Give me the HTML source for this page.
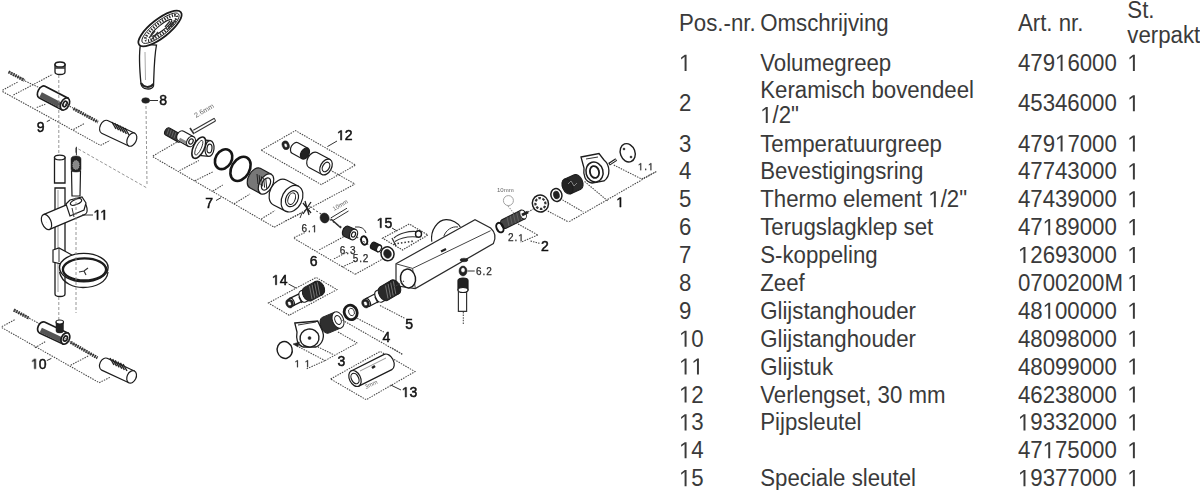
<!DOCTYPE html>
<html><head><meta charset="utf-8"><style>
html,body{margin:0;padding:0;background:#fff;width:1200px;height:490px;overflow:hidden}
svg{display:block}
.tb text{font-family:"Liberation Sans",sans-serif;font-size:22.25px;fill:#3a3a3a}
.lb{font-family:"Liberation Sans",sans-serif;fill:#111;stroke:#111;stroke-width:0.5px}
.h1{fill-opacity:0;stroke-opacity:0}
.lbt{font-family:"Liberation Sans",sans-serif;fill:#666}
.lbs{font-family:"Liberation Sans",sans-serif;fill:#2a2a2a;stroke:#2a2a2a;stroke-width:0.25px;letter-spacing:0.9px}
</style></head><body>
<svg width="1200" height="490" viewBox="0 0 1200 490">
<g id="dg" style="filter:blur(0.3px)">
<path d="M140.5,44 C138.5,56 140,74 141,84 C142,90 151.5,90.5 153.5,86 C154,75 154,58 156.5,45 Z" stroke="#1c1c1c" fill="#fff" stroke-width="1.3"/>
<path d="M141,83 C144,88 150,88 153.5,84" fill="none" stroke="#222" stroke-width="2"/>
<line x1="145" y1="52" x2="145.5" y2="80" stroke-width="1" fill="none" stroke="#aaa"/>
<ellipse cx="160" cy="28.5" rx="26.5" ry="9.2" stroke="#1c1c1c" fill="#fff" transform="rotate(-38 160 28.5)" stroke-width="1.8"/>
<ellipse cx="160.5" cy="28.2" rx="23" ry="7" stroke="#1c1c1c" fill="#fff" transform="rotate(-38 160.5 28.2)" stroke-width="0.9"/>
<ellipse cx="161" cy="28" rx="19.5" ry="5"  transform="rotate(-38 161 28)" fill="none" stroke="#2a2a2a" stroke-width="2.8" stroke-dasharray="1.3 1.4"/>
<ellipse cx="161.5" cy="27.8" rx="13" ry="2.8" stroke="#1c1c1c" fill="#fff" transform="rotate(-38 161.5 27.8)" stroke-width="1"/>
<path d="M149,38 L155,31 M152,39 L158,32 M165,27 L170,21 M168,29 L173,22 M171,27 L176,19" fill="none" stroke="#333" stroke-width="1.3"/>
<ellipse cx="145.7" cy="100.5" rx="4" ry="2.8" fill="#222" stroke="#222" stroke-width="0.5" />
<line x1="149.5" y1="100.5" x2="158" y2="100.5" stroke="#333" stroke-width="1" fill="none" />
<text x="159.2" y="105.4" class="lb" style="font-size:14px" >8</text>
<line x1="146" y1="106" x2="147" y2="185" fill="none" stroke-dasharray="3 2" stroke="#8a8a8a" stroke-width="0.9"/>
<line x1="8.6" y1="71.9" x2="24.5" y2="80.4" stroke="#2a2a2a" stroke-width="3.2" stroke-dasharray="1.6 0.9"/>
<line x1="8.6" y1="71.9" x2="24.5" y2="80.4" stroke="#555" stroke-width="1"/>
<line x1="2.5" y1="90.2" x2="18.4" y2="81.7" stroke="#484848" stroke-width="1.05" stroke-dasharray="1.5 1.1" fill="none" />
<line x1="2.5" y1="91.5" x2="100.5" y2="145.4" stroke="#484848" stroke-width="1.05" stroke-dasharray="1.5 1.1" fill="none" />
<line x1="100.5" y1="145.4" x2="110" y2="140.5" stroke="#484848" stroke-width="1.05" stroke-dasharray="1.5 1.1" fill="none" />
<line x1="36.8" y1="107.4" x2="45.3" y2="104.2" stroke="#484848" stroke-width="1.05" stroke-dasharray="1.5 1.1" fill="none" />
<line x1="73.5" y1="129.5" x2="84.6" y2="123.3" stroke="#484848" stroke-width="1.05" stroke-dasharray="1.5 1.1" fill="none" />
<line x1="13.5" y1="95" x2="52.7" y2="74.3" stroke="#484848" stroke-width="1.05" stroke-dasharray="1.5 1.1" fill="none" />
<line x1="25" y1="81" x2="40" y2="88" stroke="#484848" stroke-width="1.05" stroke-dasharray="1.5 1.1" fill="none" />
<path d="M55,64.5 L55,72 A5 2.5 0 0 0 65,72 L65,64.5 Z" stroke="#1c1c1c" fill="#fff" stroke-width="1.3"/>
<ellipse cx="60" cy="64.5" rx="5" ry="2.6" stroke="#1c1c1c" fill="#fff" stroke-width="1.5"/>
<line x1="55" y1="68" x2="65" y2="68" stroke="#333" fill="none" stroke-width="1.5"/>
<g transform="translate(42.00 92.00) rotate(27.55)"><path d="M0,-6.5 L25.94,-6.5 L25.94,6.5 L0,6.5 A4 6.5 0 0 1 0,-6.5 Z" fill="#fff" stroke="#1c1c1c" stroke-width="1.7"/><path d="M0,0.325 L25.94,0.325 L25.94,5.9 L0,5.9 Z" fill="#555"/><ellipse cx="25.94" cy="0" rx="4" ry="6.5" fill="#fff" stroke="#1c1c1c" stroke-width="1.7"/><ellipse cx="25.94" cy="0" rx="1.8" ry="2.9250000000000003" fill="none" stroke="#1c1c1c" stroke-width="1.7"/></g>
<line x1="65" y1="104" x2="73" y2="108" stroke="#484848" stroke-width="1.05" stroke-dasharray="1.5 1.1" fill="none" />
<line x1="73.5" y1="108.6" x2="98" y2="122" stroke="#2a2a2a" stroke-width="3.2" stroke-dasharray="1.6 0.9"/>
<line x1="73.5" y1="108.6" x2="98" y2="122" stroke="#555" stroke-width="1"/>
<g transform="translate(104.60 126.90) rotate(25.03)"><path d="M0,-7.0 L30.02,-7.0 L30.02,7.0 L0,7.0 A4.5 7.0 0 0 1 0,-7.0 Z" fill="#fff" stroke="#1c1c1c" stroke-width="1.2"/><ellipse cx="30.02" cy="0" rx="4.5" ry="7.0" fill="#fff" stroke="#1c1c1c" stroke-width="1.2"/></g>
<line x1="112.0" y1="122.0" x2="116.0" y2="129.0" fill="none" stroke-width="1.4" stroke="#222"/>
<line x1="114.6" y1="123.2" x2="118.6" y2="130.2" fill="none" stroke-width="1.4" stroke="#222"/>
<line x1="117.2" y1="124.4" x2="121.2" y2="131.4" fill="none" stroke-width="1.4" stroke="#222"/>
<line x1="119.8" y1="125.6" x2="123.8" y2="132.6" fill="none" stroke-width="1.4" stroke="#222"/>
<line x1="122.4" y1="126.8" x2="126.4" y2="133.8" fill="none" stroke-width="1.4" stroke="#222"/>
<line x1="125.0" y1="128.0" x2="129.0" y2="135.0" fill="none" stroke-width="1.4" stroke="#222"/>
<text x="36.7" y="131.6" class="lb" style="font-size:14px" >9</text>
<line x1="46.8" y1="121.6" x2="50" y2="120" stroke="#333" stroke-width="1" fill="none" />
<line x1="78.4" y1="149" x2="147" y2="188" fill="none" stroke-dasharray="3 2" stroke="#8a8a8a" stroke-width="0.9"/>
<line x1="76" y1="147.8" x2="76" y2="152.7" stroke="#333" stroke-width="1" fill="none" />
<line x1="58.8" y1="75" x2="58.8" y2="154" fill="none" stroke-dasharray="3 2" stroke="#8a8a8a" stroke-width="0.9"/>
<path d="M54.5,157.5 L54.5,183 L65,183 L65,157.5 Z" stroke="#1c1c1c" fill="#fff" stroke-width="1.3"/>
<ellipse cx="59.75" cy="157.5" rx="5.25" ry="2.4" stroke="#1c1c1c" fill="#fff" stroke-width="1.3"/>
<path d="M55,188 L55,294 A5 2.5 0 0 0 65,294 L65,188 Z" stroke="#1c1c1c" fill="#fff" stroke-width="1.3"/>
<line x1="58" y1="190" x2="58" y2="292" stroke-width="1" fill="none" stroke="#999"/>
<path d="M71.5,171 L72,196 L80,196 L80.5,171 Z" stroke="#1c1c1c" fill="#fff" stroke-width="1.2"/>
<path d="M71,159 Q71,156 76,156 Q81,156 81,159 L81,169 Q81,172 76,172 Q71,172 71,169 Z" fill="#222" stroke="#222" stroke-width="0.5" />
<ellipse cx="76" cy="165" rx="3.2" ry="4.5"  fill="#888" stroke="#aaa" stroke-width="0.8" stroke-dasharray="1 1"/>
<line x1="76.4" y1="146.8" x2="76.4" y2="155.3" stroke="#333" stroke-width="1" fill="none" />
<g transform="translate(82.00 207.00) rotate(157.09)"><path d="M0,-8.0 L38.54,-8.0 L38.54,8.0 L0,8.0 A4.5 8.0 0 0 1 0,-8.0 Z" fill="#fff" stroke="#1c1c1c" stroke-width="1.2"/><ellipse cx="38.54" cy="0" rx="4.5" ry="8.0" fill="#fff" stroke="#1c1c1c" stroke-width="1.2"/><ellipse cx="38.54" cy="0" rx="0.00045000000000000004" ry="0.0008" fill="none" stroke="#1c1c1c" stroke-width="1.2"/></g>
<path d="M66,204 L70,200 L82,197 L86,203 L84,210 L70,216 Z" stroke="#1c1c1c" fill="#fff" stroke-width="1.2"/>
<ellipse cx="76" cy="202" rx="6" ry="2.5" stroke="#1c1c1c" fill="#fff" transform="rotate(-23 76 202)" stroke-width="1.2"/>
<line x1="72" y1="208" x2="74" y2="217" stroke="#333" stroke-width="1" fill="none" />
<line x1="82" y1="215" x2="93" y2="215" stroke="#333" stroke-width="1" fill="none" />
<text x="93.4" y="219.7" class="lb" style="font-size:14px" ><tspan class="h1">1</tspan><tspan class="h1">1</tspan></text>
<path d="M53,250 L59,248 L72,255 L72,262 L66,265 L53,262 Z" stroke="#1c1c1c" fill="#fff" stroke-width="1.2"/>
<line x1="59" y1="248" x2="59" y2="262" stroke-width="1" fill="none" stroke="#333"/>
<path d="M59.5,272 C62,284 75,287.5 83,287.5 C96,287.5 107,282 108,272" fill="none" stroke="#222" stroke-width="1.3"/>
<ellipse cx="83.8" cy="267.6" rx="24.3" ry="14.2" stroke="#1c1c1c" fill="#fff" stroke-width="1.4"/>
<ellipse cx="84.5" cy="269.4" rx="21.6" ry="11" stroke="#1c1c1c" fill="#fff" stroke-width="2.3"/>
<path d="M79,272 L84,271 L88,268 M84,271 L86,275" stroke="#333" fill="none" stroke-width="1.2"/>
<line x1="58.8" y1="297" x2="58.8" y2="322" fill="none" stroke-dasharray="3 2" stroke="#8a8a8a" stroke-width="0.9"/>
<line x1="76" y1="197" x2="76" y2="313" fill="none" stroke-dasharray="3 2" stroke="#8a8a8a" stroke-width="0.9"/>
<line x1="13.8" y1="310" x2="29.4" y2="318.4" stroke="#2a2a2a" stroke-width="3.2" stroke-dasharray="1.6 0.9"/>
<line x1="13.8" y1="310" x2="29.4" y2="318.4" stroke="#555" stroke-width="1"/>
<line x1="1.8" y1="326.6" x2="15.6" y2="319.3" stroke="#484848" stroke-width="1.05" stroke-dasharray="1.5 1.1" fill="none" />
<line x1="1.8" y1="327.6" x2="99.2" y2="382.7" stroke="#484848" stroke-width="1.05" stroke-dasharray="1.5 1.1" fill="none" />
<line x1="99.2" y1="382.7" x2="110.2" y2="377.2" stroke="#484848" stroke-width="1.05" stroke-dasharray="1.5 1.1" fill="none" />
<line x1="34.9" y1="347.8" x2="45.9" y2="341.3" stroke="#484848" stroke-width="1.05" stroke-dasharray="1.5 1.1" fill="none" />
<line x1="70.7" y1="365.2" x2="88.2" y2="356" stroke="#484848" stroke-width="1.05" stroke-dasharray="1.5 1.1" fill="none" />
<line x1="29.4" y1="318.4" x2="42" y2="325" stroke="#484848" stroke-width="1.05" stroke-dasharray="1.5 1.1" fill="none" />
<g transform="translate(42.00 327.50) rotate(25.18)"><path d="M0,-6.0 L25.86,-6.0 L25.86,6.0 L0,6.0 A4 6.0 0 0 1 0,-6.0 Z" fill="#fff" stroke="#1c1c1c" stroke-width="1.7"/><path d="M0,0.30000000000000004 L25.86,0.30000000000000004 L25.86,5.4 L0,5.4 Z" fill="#555"/><ellipse cx="25.86" cy="0" rx="4" ry="6.0" fill="#fff" stroke="#1c1c1c" stroke-width="1.7"/><ellipse cx="25.86" cy="0" rx="1.8" ry="2.7" fill="none" stroke="#1c1c1c" stroke-width="1.7"/></g>
<path d="M56,322 L56,331 A3.75 2 0 0 0 63.5,331 L63.5,322 Z" fill="#222" stroke="#222" stroke-width="0.5" />
<ellipse cx="59.75" cy="322" rx="3.75" ry="2" stroke="#1c1c1c" fill="#fff" stroke-width="1.2"/>
<line x1="65.4" y1="338.5" x2="70.7" y2="342.3" stroke="#484848" stroke-width="1.05" stroke-dasharray="1.5 1.1" fill="none" />
<line x1="70.7" y1="342.3" x2="97.4" y2="357.9" stroke="#2a2a2a" stroke-width="3.2" stroke-dasharray="1.6 0.9"/>
<line x1="70.7" y1="342.3" x2="97.4" y2="357.9" stroke="#555" stroke-width="1"/>
<g transform="translate(104.40 364.20) rotate(25.03)"><path d="M0,-6.5 L30.02,-6.5 L30.02,6.5 L0,6.5 A4.5 6.5 0 0 1 0,-6.5 Z" fill="#fff" stroke="#1c1c1c" stroke-width="1.2"/><ellipse cx="30.02" cy="0" rx="4.5" ry="6.5" fill="#fff" stroke="#1c1c1c" stroke-width="1.2"/></g>
<line x1="110.0" y1="358.0" x2="114.0" y2="365.0" fill="none" stroke-width="1.4" stroke="#222"/>
<line x1="112.6" y1="359.2" x2="116.6" y2="366.2" fill="none" stroke-width="1.4" stroke="#222"/>
<line x1="115.2" y1="360.4" x2="119.2" y2="367.4" fill="none" stroke-width="1.4" stroke="#222"/>
<line x1="117.8" y1="361.6" x2="121.8" y2="368.6" fill="none" stroke-width="1.4" stroke="#222"/>
<line x1="120.4" y1="362.8" x2="124.4" y2="369.8" fill="none" stroke-width="1.4" stroke="#222"/>
<line x1="123.0" y1="364.0" x2="127.0" y2="371.0" fill="none" stroke-width="1.4" stroke="#222"/>
<text x="30.9" y="368.8" class="lb" style="font-size:14px" ><tspan class="h1">1</tspan>0</text>
<line x1="46.8" y1="360.6" x2="51.4" y2="358.4" stroke="#333" stroke-width="1" fill="none" />
<line x1="152.9" y1="156" x2="176.7" y2="142.2" stroke="#484848" stroke-width="1.05" stroke-dasharray="1.5 1.1" fill="none" />
<line x1="152.9" y1="156.8" x2="274.2" y2="227.2" stroke="#484848" stroke-width="1.05" stroke-dasharray="1.5 1.1" fill="none" />
<line x1="274.2" y1="227.2" x2="355" y2="184" stroke="#484848" stroke-width="1.05" stroke-dasharray="1.5 1.1" fill="none" />
<line x1="179.5" y1="170.6" x2="198.8" y2="160.5" stroke="#484848" stroke-width="1.05" stroke-dasharray="1.5 1.1" fill="none" />
<line x1="195" y1="180.7" x2="213.5" y2="171.5" stroke="#484848" stroke-width="1.05" stroke-dasharray="1.5 1.1" fill="none" />
<line x1="212.9" y1="191.1" x2="222.7" y2="185" stroke="#484848" stroke-width="1.05" stroke-dasharray="1.5 1.1" fill="none" />
<line x1="234" y1="203.8" x2="250" y2="194" stroke="#484848" stroke-width="1.05" stroke-dasharray="1.5 1.1" fill="none" />
<line x1="261.3" y1="218.9" x2="275" y2="210.6" stroke="#484848" stroke-width="1.05" stroke-dasharray="1.5 1.1" fill="none" />
<g transform="translate(167.50 131.50) rotate(29.25)"><path d="M0,-4.0 L14.33,-4.0 L14.33,4.0 L0,4.0 A2.5 4.0 0 0 1 0,-4.0 Z" fill="#333" stroke="#1c1c1c" stroke-width="1"/><ellipse cx="14.33" cy="0" rx="2.5" ry="4.0" fill="#fff" stroke="#1c1c1c" stroke-width="1"/></g>
<line x1="169.0" y1="128.5" x2="167.0" y2="134.5" fill="none" stroke="#888" stroke-width="0.6"/>
<line x1="171.3" y1="129.8" x2="169.3" y2="135.8" fill="none" stroke="#888" stroke-width="0.6"/>
<line x1="173.6" y1="131.1" x2="171.6" y2="137.1" fill="none" stroke="#888" stroke-width="0.6"/>
<line x1="175.9" y1="132.4" x2="173.9" y2="138.4" fill="none" stroke="#888" stroke-width="0.6"/>
<line x1="178.2" y1="133.7" x2="176.2" y2="139.7" fill="none" stroke="#888" stroke-width="0.6"/>
<g transform="translate(181.00 136.00) rotate(28.81)"><path d="M0,-5.5 L11.41,-5.5 L11.41,5.5 L0,5.5 A4 5.5 0 0 1 0,-5.5 Z" fill="#fff" stroke="#1c1c1c" stroke-width="1.2"/><path d="M0,1.9249999999999998 L11.41,1.9249999999999998 L11.41,4.9 L0,4.9 Z" fill="#888"/><ellipse cx="11.41" cy="0" rx="4" ry="5.5" fill="#fff" stroke="#1c1c1c" stroke-width="1.2"/><ellipse cx="11.41" cy="0" rx="2.0" ry="2.75" fill="none" stroke="#1c1c1c" stroke-width="1.2"/></g>
<line x1="193.3" y1="130.2" x2="214.4" y2="118.3" stroke="#333" fill="none" stroke-width="1.1"/>
<line x1="194.5" y1="133" x2="215.5" y2="121" stroke="#333" fill="none" stroke-width="1.1"/>
<line x1="214.4" y1="118.3" x2="215.5" y2="121" stroke="#333" stroke-width="1" fill="none" />
<line x1="190" y1="128" x2="194" y2="134" stroke="#333" fill="none" stroke-width="1.6"/>
<text x="196" y="118" class="lbt" style="font-size:7px" transform="rotate(-30 196 118)">2.6mm</text>
<g transform="translate(199.50 147.50) rotate(5.71)"><path d="M0,-8.0 L10.05,-8.0 L10.05,8.0 L0,8.0 A4.5 8.0 0 0 1 0,-8.0 Z" fill="#fff" stroke="#1c1c1c" stroke-width="1.2"/><ellipse cx="10.05" cy="0" rx="4.5" ry="8.0" fill="#fff" stroke="#1c1c1c" stroke-width="1.2"/><ellipse cx="10.05" cy="0" rx="2.475" ry="4.4" fill="none" stroke="#1c1c1c" stroke-width="1.2"/></g>
<ellipse cx="198.8" cy="147.7" rx="5.5" ry="11.5" stroke="#1c1c1c" fill="#fff" transform="rotate(25 198.8 147.7)" stroke-width="1.6"/>
<ellipse cx="198.8" cy="147.7" rx="2.5" ry="8" stroke="#1c1c1c" transform="rotate(25 198.8 147.7)" stroke-width="0.8" fill="none"/>
<ellipse cx="223.6" cy="159.2" rx="8" ry="10.5" fill="none" stroke="#151515" stroke-width="2.6" transform="rotate(30 223.6 159.2)" />
<ellipse cx="240.5" cy="168.9" rx="9" ry="13" fill="none" stroke="#151515" stroke-width="2.6" transform="rotate(30 240.5 168.9)" />
<g transform="translate(255.00 178.00) rotate(28.61)"><path d="M0,-11.0 L12.53,-11.0 L12.53,11.0 L0,11.0 A6.5 11.0 0 0 1 0,-11.0 Z" fill="#777" stroke="#1c1c1c" stroke-width="1.2"/><ellipse cx="12.53" cy="0" rx="6.5" ry="11.0" fill="#fff" stroke="#1c1c1c" stroke-width="1.2"/><ellipse cx="12.53" cy="0" rx="3.9" ry="6.6" fill="none" stroke="#1c1c1c" stroke-width="1.2"/></g>
<line x1="257.0" y1="174.0" x2="258.0" y2="184.0" fill="none" stroke="#222" stroke-width="1"/>
<line x1="259.2" y1="175.2" x2="260.2" y2="185.2" fill="none" stroke="#222" stroke-width="1"/>
<line x1="261.4" y1="176.4" x2="262.4" y2="186.4" fill="none" stroke="#222" stroke-width="1"/>
<line x1="263.6" y1="177.6" x2="264.6" y2="187.6" fill="none" stroke="#222" stroke-width="1"/>
<line x1="265.8" y1="178.8" x2="266.8" y2="188.8" fill="none" stroke="#222" stroke-width="1"/>
<g transform="translate(280.00 192.50) rotate(27.32)"><path d="M0,-14.0 L13.51,-14.0 L13.51,14.0 L0,14.0 A10 14.0 0 0 1 0,-14.0 Z" fill="#fff" stroke="#1c1c1c" stroke-width="1.2"/><ellipse cx="13.51" cy="0" rx="10" ry="14.0" fill="#fff" stroke="#1c1c1c" stroke-width="1.2"/><ellipse cx="13.51" cy="0" rx="6.0" ry="8.4" fill="none" stroke="#1c1c1c" stroke-width="1.2"/></g>
<ellipse cx="291.7" cy="198.7" rx="3.5" ry="6" stroke="#1c1c1c" fill="#fff" transform="rotate(20 291.7 198.7)" stroke-width="1"/>
<path d="M303,203 L311,213 M311,202 L303,214 M305,201 L309,215"  fill="none" stroke="#222" stroke-width="1.3"/>
<line x1="302" y1="213" x2="300" y2="218" stroke="#333" stroke-width="1" fill="none" />
<text x="205.2" y="207.9" class="lb" style="font-size:14px" >7</text>
<line x1="216" y1="200.5" x2="221" y2="197.7" stroke="#333" stroke-width="1" fill="none" />
<polygon points="261.2,150.2 295.5,130.6 355.6,165 321.3,184.6" stroke="#484848" stroke-width="1.05" stroke-dasharray="1.5 1.1" fill="none" />
<text x="337" y="140.1" class="lb" style="font-size:14px" ><tspan class="h1">1</tspan>2</text>
<line x1="327.4" y1="146.6" x2="337" y2="141" stroke="#333" stroke-width="1" fill="none" />
<ellipse cx="285.7" cy="145.3" rx="3.5" ry="4.5" fill="#222" stroke="#222" stroke-width="0.5" transform="rotate(-20 285.7 145.3)" />
<ellipse cx="285.7" cy="145.3" rx="1.5" ry="2.2" stroke="#1c1c1c" fill="#fff" transform="rotate(-20 285.7 145.3)" stroke-width="0.5"/>
<g transform="translate(295.00 148.00) rotate(28.81)"><path d="M0,-6.0 L11.41,-6.0 L11.41,6.0 L0,6.0 A4 6.0 0 0 1 0,-6.0 Z" fill="#fff" stroke="#1c1c1c" stroke-width="1.2"/><ellipse cx="11.41" cy="0" rx="4" ry="6.0" fill="#222" stroke="#1c1c1c" stroke-width="1.2"/></g>
<g transform="translate(313.00 160.00) rotate(28.30)"><path d="M0,-8.5 L14.76,-8.5 L14.76,8.5 L0,8.5 A5.5 8.5 0 0 1 0,-8.5 Z" fill="#fff" stroke="#1c1c1c" stroke-width="1.2"/><ellipse cx="14.76" cy="0" rx="5.5" ry="8.5" fill="#fff" stroke="#1c1c1c" stroke-width="1.2"/><ellipse cx="14.76" cy="0" rx="3.3" ry="5.1" fill="none" stroke="#1c1c1c" stroke-width="1.2"/></g>
<line x1="330" y1="170" x2="355" y2="184" stroke="#484848" stroke-width="1.05" stroke-dasharray="1.5 1.1" fill="none" />
<line x1="294" y1="237.6" x2="304.6" y2="232.7" stroke="#484848" stroke-width="1.05" stroke-dasharray="1.5 1.1" fill="none" />
<line x1="294" y1="238.4" x2="355.2" y2="274.3" stroke="#484848" stroke-width="1.05" stroke-dasharray="1.5 1.1" fill="none" />
<line x1="355.2" y1="274.3" x2="383" y2="258.8" stroke="#484848" stroke-width="1.05" stroke-dasharray="1.5 1.1" fill="none" />
<line x1="319.3" y1="249.8" x2="343.8" y2="236.7" stroke="#484848" stroke-width="1.05" stroke-dasharray="1.5 1.1" fill="none" />
<line x1="334" y1="258.8" x2="347" y2="252.2" stroke="#484848" stroke-width="1.05" stroke-dasharray="1.5 1.1" fill="none" />
<line x1="342" y1="267" x2="356.8" y2="260.4" stroke="#484848" stroke-width="1.05" stroke-dasharray="1.5 1.1" fill="none" />
<line x1="303" y1="212.2" x2="285" y2="221.2" stroke="#484848" stroke-width="1.05" stroke-dasharray="1.5 1.1" fill="none" />
<line x1="309.5" y1="206.5" x2="383" y2="254" stroke="#484848" stroke-width="1.05" fill="none" stroke-dasharray="2 2"/>
<ellipse cx="324.6" cy="218" rx="4.5" ry="5" fill="#222" stroke="#222" stroke-width="0.5" transform="rotate(-20 324.6 218)" />
<polyline points="330.7,218 347,208.2" stroke="#333" stroke-width="1" fill="none" />
<polyline points="332,221 348.5,211" stroke="#333" stroke-width="1" fill="none" />
<polyline points="331,219 341,228" stroke="#333" fill="none" stroke-width="1.6"/>
<text x="334" y="211" class="lbt" style="font-size:6px" transform="rotate(-30 334 211)">10mm</text>
<g transform="translate(346.50 231.50) rotate(23.20)"><path d="M0,-5.5 L7.62,-5.5 L7.62,5.5 L0,5.5 A3.8 5.5 0 0 1 0,-5.5 Z" fill="#333" stroke="#1c1c1c" stroke-width="1.2"/><ellipse cx="7.62" cy="0" rx="3.8" ry="5.5" fill="#fff" stroke="#1c1c1c" stroke-width="1.2"/><ellipse cx="7.62" cy="0" rx="1.9" ry="2.75" fill="none" stroke="#1c1c1c" stroke-width="1.2"/></g>
<path d="M355,227 Q364,226 366,233" stroke="#333" stroke-width="1" fill="none"/>
<ellipse cx="364.2" cy="240.5" rx="3" ry="4.3" fill="none" stroke="#151515" transform="rotate(-15 364.2 240.5)" stroke-width="2"/>
<g transform="translate(373.00 245.50) rotate(26.57)"><path d="M0,-3.5 L6.71,-3.5 L6.71,3.5 L0,3.5 A2.2 3.5 0 0 1 0,-3.5 Z" fill="#222" stroke="#1c1c1c" stroke-width="1.2"/><ellipse cx="6.71" cy="0" rx="2.2" ry="3.5" fill="#fff" stroke="#1c1c1c" stroke-width="1.2"/></g>
<ellipse cx="387.5" cy="253.8" rx="6.5" ry="7" stroke="#1c1c1c" fill="#fff" transform="rotate(-20 387.5 253.8)" stroke-width="1.5"/>
<ellipse cx="387.5" cy="253.8" rx="3.8" ry="4.5" fill="#222" stroke="#222" stroke-width="0.5" transform="rotate(-20 387.5 253.8)" />
<text x="301.5" y="232.2" class="lbs" style="font-size:10px" >6.<tspan class="h1">1</tspan></text>
<text x="339.8" y="254.2" class="lbs" style="font-size:10px" >6.3</text>
<text x="352.7" y="261.8" class="lbs" style="font-size:10px" >5.2</text>
<text x="309.7" y="266.4" class="lb" style="font-size:14px" >6</text>
<text x="376.6" y="227.8" class="lb" style="font-size:14px" ><tspan class="h1">1</tspan>5</text>
<line x1="392" y1="228" x2="397" y2="231" stroke="#333" stroke-width="1" fill="none" />
<polygon points="382.6,238.2 409.2,224 427.9,235 402.6,250" stroke="#484848" stroke-dasharray="1.5 1.1" fill="none" stroke-width="1.2"/>
<path d="M394,238 C399,233 409,231 416,231.5 M395,241.5 C402,237 411,236.5 417,237" fill="none" stroke="#333" stroke-width="1.1"/>
<ellipse cx="418.5" cy="234" rx="3" ry="3.2" stroke="#1c1c1c" fill="none" stroke-width="1.4"/>
<line x1="394" y1="244" x2="414" y2="241" fill="none" stroke="#333" stroke-width="1.6" stroke-dasharray="1.5 2"/>
<line x1="392" y1="238" x2="396" y2="246" fill="none" stroke="#333" stroke-width="1.2"/>
<path d="M396,263.8 L475,219.7 L490.6,228 C495,232 496,238 493.4,243.6 L415.3,288.6 L396,285.8 Z" fill="#fff" stroke="#2a2a2a" stroke-width="1.2"/>
<line x1="412.6" y1="268.4" x2="490.6" y2="230.7" stroke-width="1" fill="none" stroke="#444"/>
<line x1="396" y1="263.8" x2="412.6" y2="268.4" stroke-width="1" fill="none" stroke="#444"/>
<line x1="412.6" y1="268.4" x2="415.3" y2="288.6" stroke-width="1" fill="none" stroke="#444"/>
<ellipse cx="408" cy="278.5" rx="7.5" ry="9.5" stroke="#1c1c1c" fill="#fff" transform="rotate(-10 408 278.5)" stroke-width="1.5"/>
<line x1="441" y1="251.5" x2="446" y2="249" fill="none" stroke-width="2.2" stroke="#222"/>
<path d="M431.8,241.7 C430,230 438,220 446,219.7 C452,219.5 458,223 460.3,227" stroke="#1c1c1c" fill="#fff" stroke-width="1.2"/>
<path d="M443.8,236.2 C446,230 452,226 458,227" stroke="#333" stroke-width="1" fill="none"/>
<ellipse cx="464" cy="260" rx="4" ry="1.8" fill="#222" stroke="#222" stroke-width="0.5" />
<ellipse cx="463" cy="271" rx="4" ry="5" fill="#222" stroke="#222" stroke-width="0.5" />
<ellipse cx="463" cy="270" rx="2.2" ry="2.5" stroke="#1c1c1c" fill="#fff" stroke-width="0.6"/>
<line x1="467.4" y1="271" x2="474.7" y2="271" stroke="#333" stroke-width="1" fill="none" />
<text x="476" y="274.6" class="lbs" style="font-size:10px" >6.2</text>
<g transform="translate(463.00 280.50) rotate(90.00)"><path d="M0,-5.0 L9.50,-5.0 L9.50,5.0 L0,5.0 A2.5 5.0 0 0 1 0,-5.0 Z" fill="#222" stroke="#1c1c1c" stroke-width="1.2"/><ellipse cx="9.50" cy="0" rx="2.5" ry="5.0" fill="#fff" stroke="#1c1c1c" stroke-width="1.2"/></g>
<path d="M458.4,291 L458.4,311.3 L466.6,311.3 L466.6,291" stroke="#333" fill="none" stroke-width="1.2"/>
<line x1="463.3" y1="312" x2="463.3" y2="325" stroke="#484848" stroke-width="1.05" stroke-dasharray="1.5 1.1" fill="none" />
<text x="497" y="192" class="lbt" style="font-size:6px" >10mm</text>
<ellipse cx="508.4" cy="200.6" rx="5" ry="5" fill="#fff" stroke="#999" stroke-width="0.9"/>
<line x1="508" y1="206" x2="516" y2="216" stroke-width="1.05" stroke-dasharray="1.5 1.1" fill="none" stroke="#999"/>
<g transform="translate(504.00 224.00) rotate(-26.57)"><path d="M0,-4.75 L21.24,-4.75 L21.24,4.75 L0,4.75 A3 4.75 0 0 1 0,-4.75 Z" fill="#444" stroke="#1c1c1c" stroke-width="1"/><ellipse cx="21.24" cy="0" rx="3" ry="4.75" fill="#fff" stroke="#1c1c1c" stroke-width="1"/></g>
<line x1="507.0" y1="217.0" x2="509.0" y2="226.0" fill="none" stroke="#777" stroke-width="0.6"/>
<line x1="510.2" y1="215.5" x2="512.2" y2="224.5" fill="none" stroke="#777" stroke-width="0.6"/>
<line x1="513.4" y1="214.0" x2="515.4" y2="223.0" fill="none" stroke="#777" stroke-width="0.6"/>
<line x1="516.6" y1="212.5" x2="518.6" y2="221.5" fill="none" stroke="#777" stroke-width="0.6"/>
<line x1="519.8" y1="211.0" x2="521.8" y2="220.0" fill="none" stroke="#777" stroke-width="0.6"/>
<ellipse cx="499.9" cy="227.6" rx="3.3" ry="5" fill="none" stroke="#151515" transform="rotate(-25 499.9 227.6)" stroke-width="2"/>
<line x1="522" y1="215" x2="528" y2="212" fill="none" stroke-width="3" stroke="#222"/>
<line x1="528" y1="212" x2="540" y2="205" stroke="#484848" stroke-width="1.05" stroke-dasharray="1.5 1.1" fill="none" />
<line x1="515.8" y1="222.7" x2="537.8" y2="235" stroke="#484848" stroke-width="1.05" stroke-dasharray="1.5 1.1" fill="none" />
<line x1="537.8" y1="235" x2="520.7" y2="242.3" stroke="#484848" stroke-width="1.05" stroke-dasharray="1.5 1.1" fill="none" />
<line x1="530.5" y1="241" x2="540" y2="243.5" stroke="#484848" stroke-width="1.05" stroke-dasharray="1.5 1.1" fill="none" />
<text x="508" y="241.2" class="lbs" style="font-size:10px" >2.<tspan class="h1">1</tspan></text>
<text x="541" y="250.9" class="lb" style="font-size:14px" >2</text>
<ellipse cx="627.7" cy="152.8" rx="7.3" ry="9.4" stroke="#1c1c1c" fill="#fff" transform="rotate(-20 627.7 152.8)" stroke-width="1.4"/>
<ellipse cx="624" cy="149" rx="1" ry="1" fill="#222" stroke="#222" stroke-width="0.5" />
<ellipse cx="631" cy="157" rx="1" ry="1" fill="#222" stroke="#222" stroke-width="0.5" />
<line x1="609" y1="164.3" x2="616.3" y2="159.4" fill="none" stroke-width="3" stroke="#222"/>
<line x1="610" y1="163.8" x2="616" y2="159.8" fill="none" stroke-width="1" stroke="#eee"/>
<path d="M581,157 L599,153.5 L604,160 C610,165 611,176 604,181 L592,183 C585,182 583,175 584,168 Z" stroke="#1c1c1c" fill="#fff" stroke-width="1.3"/>
<ellipse cx="594.5" cy="172" rx="8.5" ry="10" stroke="#1c1c1c" fill="#fff" transform="rotate(-15 594.5 172)" stroke-width="1.5"/>
<ellipse cx="594.5" cy="172" rx="4.5" ry="6" stroke="#1c1c1c" fill="#fff" transform="rotate(-15 594.5 172)" stroke-width="1.8"/>
<line x1="586" y1="159" x2="598" y2="157" stroke="#333" stroke-width="1" fill="none" />
<g transform="translate(577.50 182.00) rotate(155.77)"><path d="M0,-8.0 L10.97,-8.0 L10.97,8.0 L0,8.0 A5 8.0 0 0 1 0,-8.0 Z" fill="#2a2a2a" stroke="#1c1c1c" stroke-width="1"/><ellipse cx="10.97" cy="0" rx="5" ry="8.0" fill="#222" stroke="#1c1c1c" stroke-width="1"/></g>
<path d="M568,184 L571,181 L574,186 L577,183"  fill="none" stroke="#999" stroke-width="0.8"/>
<ellipse cx="556.4" cy="195" rx="5.5" ry="6.5" stroke="#1c1c1c" fill="#fff" transform="rotate(-15 556.4 195)" stroke-width="1.5"/>
<ellipse cx="556.4" cy="195" rx="3" ry="4" fill="#222" stroke="#222" stroke-width="0.5" transform="rotate(-15 556.4 195)" />
<ellipse cx="540.4" cy="203.5" rx="8" ry="8.5" stroke="#1c1c1c" fill="#fff" transform="rotate(-20 540.4 203.5)" stroke-width="1.5"/>
<ellipse cx="540.4" cy="203.5" rx="5" ry="5.5" fill="#fff" transform="rotate(-20 540.4 203.5)" stroke-width="2.2" stroke="#333" stroke-dasharray="2.5 1.5"/>
<text x="637.8" y="170.2" class="lbs" style="font-size:10px" ><tspan class="h1">1</tspan>.<tspan class="h1">1</tspan></text>
<text x="616.3" y="207.1" class="lb" style="font-size:14px" ><tspan class="h1">1</tspan></text>
<line x1="613.8" y1="165" x2="641.6" y2="179" stroke="#484848" stroke-width="1.05" stroke-dasharray="1.5 1.1" fill="none" />
<line x1="641.6" y1="179" x2="656.2" y2="171.6" stroke="#484848" stroke-width="1.05" stroke-dasharray="1.5 1.1" fill="none" />
<line x1="656.2" y1="171.6" x2="568.6" y2="222" stroke="#484848" stroke-width="1.05" stroke-dasharray="1.5 1.1" fill="none" />
<line x1="584.6" y1="181.5" x2="607.8" y2="201" stroke="#484848" stroke-width="1.05" stroke-dasharray="1.5 1.1" fill="none" />
<line x1="562.5" y1="199.9" x2="583.3" y2="212" stroke="#484848" stroke-width="1.05" stroke-dasharray="1.5 1.1" fill="none" />
<line x1="547.8" y1="211" x2="568.6" y2="222" stroke="#484848" stroke-width="1.05" stroke-dasharray="1.5 1.1" fill="none" />
<polygon points="268.4,303 316.2,277.4 337,289.6 289.2,315.3" stroke="#484848" stroke-width="1.05" stroke-dasharray="1.5 1.1" fill="none" />
<text x="271.9" y="284.8" class="lb" style="font-size:14px" ><tspan class="h1">1</tspan>4</text>
<line x1="288.5" y1="284" x2="296" y2="288" stroke="#333" stroke-width="1" fill="none" />
<g transform="translate(306.00 295.00) rotate(154.23)"><path d="M0,-4.0 L16.10,-4.0 L16.10,4.0 L0,4.0 A2.5 4.0 0 0 1 0,-4.0 Z" fill="#fff" stroke="#1c1c1c" stroke-width="1.2"/><ellipse cx="16.10" cy="0" rx="2.5" ry="4.0" fill="#fff" stroke="#1c1c1c" stroke-width="1.2"/><ellipse cx="16.10" cy="0" rx="1.0" ry="1.6" fill="none" stroke="#1c1c1c" stroke-width="1.2"/></g>
<g transform="translate(303.00 296.50) rotate(-24.44)"><path d="M0,-6.0 L6.04,-6.0 L6.04,6.0 L0,6.0 A3.5 6.0 0 0 1 0,-6.0 Z" fill="#fff" stroke="#1c1c1c" stroke-width="1.2"/><ellipse cx="6.04" cy="0" rx="3.5" ry="6.0" fill="#fff" stroke="#1c1c1c" stroke-width="1.2"/></g>
<g transform="translate(308.00 294.00) rotate(-28.61)"><path d="M0,-7.5 L12.53,-7.5 L12.53,7.5 L0,7.5 A5 7.5 0 0 1 0,-7.5 Z" fill="#2a2a2a" stroke="#1c1c1c" stroke-width="1"/><ellipse cx="12.53" cy="0" rx="5" ry="7.5" fill="#222" stroke="#1c1c1c" stroke-width="1"/></g>
<line x1="309.5" y1="286.0" x2="312.0" y2="299.0" fill="none" stroke="#888" stroke-width="0.8"/>
<line x1="312.1" y1="284.7" x2="314.6" y2="297.7" fill="none" stroke="#888" stroke-width="0.8"/>
<line x1="314.7" y1="283.4" x2="317.2" y2="296.4" fill="none" stroke="#888" stroke-width="0.8"/>
<line x1="317.3" y1="282.1" x2="319.8" y2="295.1" fill="none" stroke="#888" stroke-width="0.8"/>
<line x1="299" y1="297" x2="302" y2="303" fill="none" stroke="#222" stroke-width="1.4"/>
<ellipse cx="289.5" cy="303.5" rx="3.6" ry="4.6" fill="#222" stroke="#222" stroke-width="0.5" transform="rotate(-25 289.5 303.5)" />
<ellipse cx="289.5" cy="303.5" rx="1.7" ry="2.3" stroke="#1c1c1c" fill="#fff" transform="rotate(-25 289.5 303.5)" stroke-width="0.5"/>
<g transform="translate(382.00 295.00) rotate(152.65)"><path d="M0,-4.25 L16.32,-4.25 L16.32,4.25 L0,4.25 A2.5 4.25 0 0 1 0,-4.25 Z" fill="#fff" stroke="#1c1c1c" stroke-width="1.2"/><ellipse cx="16.32" cy="0" rx="2.5" ry="4.25" fill="#fff" stroke="#1c1c1c" stroke-width="1.2"/><ellipse cx="16.32" cy="0" rx="1.0" ry="1.7000000000000002" fill="none" stroke="#1c1c1c" stroke-width="1.2"/></g>
<g transform="translate(379.00 296.50) rotate(-28.61)"><path d="M0,-6.25 L6.26,-6.25 L6.26,6.25 L0,6.25 A3.5 6.25 0 0 1 0,-6.25 Z" fill="#fff" stroke="#1c1c1c" stroke-width="1.2"/><ellipse cx="6.26" cy="0" rx="3.5" ry="6.25" fill="#fff" stroke="#1c1c1c" stroke-width="1.2"/></g>
<g transform="translate(384.00 293.50) rotate(-30.58)"><path d="M0,-7.75 L12.78,-7.75 L12.78,7.75 L0,7.75 A5 7.75 0 0 1 0,-7.75 Z" fill="#2a2a2a" stroke="#1c1c1c" stroke-width="1"/><ellipse cx="12.78" cy="0" rx="5" ry="7.75" fill="#222" stroke="#1c1c1c" stroke-width="1"/></g>
<line x1="385.5" y1="285.5" x2="388.0" y2="298.5" fill="none" stroke="#888" stroke-width="0.8"/>
<line x1="388.1" y1="284.05" x2="390.6" y2="297.05" fill="none" stroke="#888" stroke-width="0.8"/>
<line x1="390.7" y1="282.6" x2="393.2" y2="295.6" fill="none" stroke="#888" stroke-width="0.8"/>
<line x1="393.3" y1="281.15" x2="395.8" y2="294.15" fill="none" stroke="#888" stroke-width="0.8"/>
<line x1="375" y1="297" x2="378" y2="303" fill="none" stroke="#222" stroke-width="1.4"/>
<ellipse cx="365.5" cy="303.5" rx="3.6" ry="4.6" fill="#222" stroke="#222" stroke-width="0.5" transform="rotate(-25 365.5 303.5)" />
<ellipse cx="365.5" cy="303.5" rx="1.7" ry="2.3" stroke="#1c1c1c" fill="#fff" transform="rotate(-25 365.5 303.5)" stroke-width="0.5"/>
<line x1="380" y1="305.5" x2="405" y2="318.4" stroke="#484848" stroke-width="1.05" stroke-dasharray="1.5 1.1" fill="none" />
<line x1="394" y1="287" x2="404" y2="281" stroke="#484848" stroke-width="1.05" stroke-dasharray="1.5 1.1" fill="none" />
<text x="405.3" y="328.5" class="lb" style="font-size:14px" >5</text>
<ellipse cx="350.7" cy="312.4" rx="6.4" ry="7.4" fill="#fff" transform="rotate(-20 350.7 312.4)" stroke="#1a1a1a" stroke-width="2.8"/>
<ellipse cx="351.5" cy="312" rx="2.8" ry="3.8" stroke="#1c1c1c" fill="#fff" transform="rotate(-20 351.5 312)" stroke-width="0.8"/>
<line x1="357.2" y1="318.4" x2="383.8" y2="332" stroke="#484848" stroke-width="1.05" stroke-dasharray="1.5 1.1" fill="none" />
<text x="382.6" y="342.1" class="lb" style="font-size:14px" >4</text>
<g transform="translate(326.00 325.00) rotate(-22.62)"><path d="M0,-8.5 L13.00,-8.5 L13.00,8.5 L0,8.5 A5.5 8.5 0 0 1 0,-8.5 Z" fill="#2f2f2f" stroke="#1c1c1c" stroke-width="1"/><ellipse cx="13.00" cy="0" rx="5.5" ry="8.5" fill="#fff" stroke="#1c1c1c" stroke-width="1"/><ellipse cx="13.00" cy="0" rx="3.0250000000000004" ry="4.675000000000001" fill="none" stroke="#1c1c1c" stroke-width="1"/></g>
<path d="M294.8,323 L317.7,321 L322,330 C325,336 323,344 316,347 L303,347 C297,345 296,338 297,332 Z" stroke="#1c1c1c" fill="#fff" stroke-width="1.3"/>
<ellipse cx="309.5" cy="338" rx="9.5" ry="9" stroke="#1c1c1c" fill="#fff" transform="rotate(-10 309.5 338)" stroke-width="1.4"/>
<ellipse cx="309.5" cy="338" rx="1.5" ry="1.5" fill="#222" stroke="#222" stroke-width="0.5" />
<line x1="298" y1="325" x2="316" y2="322" stroke="#333" stroke-width="1" fill="none" />
<ellipse cx="284.7" cy="350" rx="7.5" ry="8.5" stroke="#1c1c1c" transform="rotate(-15 284.7 350)" stroke-width="1.4" fill="none"/>
<polygon points="293,344 299.4,342 298,347" fill="#222" stroke="#222" stroke-width="0.5" />
<text x="294.5" y="367.2" class="lbs" style="font-size:10px" ><tspan class="h1">1</tspan> <tspan class="h1">1</tspan></text>
<text x="337.4" y="366.1" class="lb" style="font-size:14px" >3</text>
<line x1="317.7" y1="346.8" x2="334.3" y2="355" stroke="#484848" stroke-width="1.05" stroke-dasharray="1.5 1.1" fill="none" />
<line x1="299" y1="347" x2="325" y2="360.6" stroke="#484848" stroke-width="1.05" stroke-dasharray="1.5 1.1" fill="none" />
<line x1="325" y1="360.6" x2="357.2" y2="343" stroke="#484848" stroke-width="1.05" stroke-dasharray="1.5 1.1" fill="none" />
<line x1="338" y1="332" x2="357.2" y2="343" stroke="#484848" stroke-width="1.05" stroke-dasharray="1.5 1.1" fill="none" />
<line x1="306.7" y1="368.8" x2="325" y2="360.6" stroke="#484848" stroke-width="1.05" stroke-dasharray="1.5 1.1" fill="none" />
<line x1="342.5" y1="320.2" x2="402.2" y2="354.2" stroke="#484848" stroke-width="1.05" stroke-dasharray="1.5 1.1" fill="none" />
<line x1="402.2" y1="354.2" x2="392" y2="348" stroke="#484848" stroke-width="1.05" stroke-dasharray="1.5 1.1" fill="none" />
<polygon points="330.6,379 380.2,351.4 415,371.6 366.2,399.7" stroke="#484848" stroke-width="1.05" stroke-dasharray="1.5 1.1" fill="none" />
<g transform="translate(388.00 362.00) rotate(153.43)"><path d="M0,-8.5 L36.90,-8.5 L36.90,8.5 L0,8.5 A5.5 8.5 0 0 1 0,-8.5 Z" fill="#fff" stroke="#1c1c1c" stroke-width="1.2"/><ellipse cx="36.90" cy="0" rx="5.5" ry="8.5" fill="#fff" stroke="#1c1c1c" stroke-width="1.2"/><ellipse cx="36.90" cy="0" rx="3.575" ry="5.525" fill="none" stroke="#1c1c1c" stroke-width="1.2"/></g>
<line x1="360" y1="371" x2="386" y2="358" stroke-width="1" fill="none" stroke="#999"/>
<line x1="372" y1="368" x2="375" y2="366" fill="none" stroke-width="2.5" stroke="#222"/>
<text x="366" y="389" class="lbt" style="font-size:6px" transform="rotate(-25 366 389)">3mm</text>
<line x1="390.7" y1="385" x2="401" y2="390" stroke="#333" stroke-width="1" fill="none" />
<text x="401.7" y="397.1" class="lb" style="font-size:14px" ><tspan class="h1">1</tspan>3</text>
</g>
<g class="tb">
<text transform="translate(679.0 30.80) scale(1 1.05)">Pos.-nr.</text>
<text transform="translate(760.2 30.80) scale(1 1.05)">Omschrijving</text>
<text transform="translate(1017.9 30.80) scale(1 1.05)">Art. nr.</text>
<text transform="translate(1127.3 18.30) scale(1 1.05)">St.</text>
<text transform="translate(1127.3 43.10) scale(1 1.05)">verpakt</text>
<text transform="translate(679.0 70.90) scale(1 1.05)"><tspan class="h1">1</tspan></text>
<text transform="translate(760.2 70.90) scale(1 1.05)">Volumegreep</text>
<text transform="translate(1017.9 70.90) scale(1 1.05)">479<tspan class="h1">1</tspan>6000</text>
<text transform="translate(1127.3 70.90) scale(1 1.05)"><tspan class="h1">1</tspan></text>
<text transform="translate(679.0 111.30) scale(1 1.05)">2</text>
<text transform="translate(760.2 97.70) scale(1 1.05)">Keramisch bovendeel</text>
<text transform="translate(760.2 123.10) scale(1 1.05)"><tspan class="h1">1</tspan>/2&quot;</text>
<text transform="translate(1017.9 111.30) scale(1 1.05)">45346000</text>
<text transform="translate(1127.3 111.30) scale(1 1.05)"><tspan class="h1">1</tspan></text>
<text transform="translate(679.0 151.50) scale(1 1.05)">3</text>
<text transform="translate(760.2 151.50) scale(1 1.05)">Temperatuurgreep</text>
<text transform="translate(1017.9 151.50) scale(1 1.05)">479<tspan class="h1">1</tspan>7000</text>
<text transform="translate(1127.3 151.50) scale(1 1.05)"><tspan class="h1">1</tspan></text>
<text transform="translate(679.0 179.39) scale(1 1.05)">4</text>
<text transform="translate(760.2 179.39) scale(1 1.05)">Bevestigingsring</text>
<text transform="translate(1017.9 179.39) scale(1 1.05)">47743000</text>
<text transform="translate(1127.3 179.39) scale(1 1.05)"><tspan class="h1">1</tspan></text>
<text transform="translate(679.0 207.28) scale(1 1.05)">5</text>
<text transform="translate(760.2 207.28) scale(1 1.05)">Thermo element <tspan class="h1">1</tspan>/2&quot;</text>
<text transform="translate(1017.9 207.28) scale(1 1.05)">47439000</text>
<text transform="translate(1127.3 207.28) scale(1 1.05)"><tspan class="h1">1</tspan></text>
<text transform="translate(679.0 235.17) scale(1 1.05)">6</text>
<text transform="translate(760.2 235.17) scale(1 1.05)">Terugslagklep set</text>
<text transform="translate(1017.9 235.17) scale(1 1.05)">47<tspan class="h1">1</tspan>89000</text>
<text transform="translate(1127.3 235.17) scale(1 1.05)"><tspan class="h1">1</tspan></text>
<text transform="translate(679.0 263.06) scale(1 1.05)">7</text>
<text transform="translate(760.2 263.06) scale(1 1.05)">S-koppeling</text>
<text transform="translate(1017.9 263.06) scale(1 1.05)"><tspan class="h1">1</tspan>2693000</text>
<text transform="translate(1127.3 263.06) scale(1 1.05)"><tspan class="h1">1</tspan></text>
<text transform="translate(679.0 290.95) scale(1 1.05)">8</text>
<text transform="translate(760.2 290.95) scale(1 1.05)">Zeef</text>
<text transform="translate(1017.9 290.95) scale(1 1.05)">0700200M</text>
<text transform="translate(1127.3 290.95) scale(1 1.05)"><tspan class="h1">1</tspan></text>
<text transform="translate(679.0 318.84) scale(1 1.05)">9</text>
<text transform="translate(760.2 318.84) scale(1 1.05)">Glijstanghouder</text>
<text transform="translate(1017.9 318.84) scale(1 1.05)">48<tspan class="h1">1</tspan>00000</text>
<text transform="translate(1127.3 318.84) scale(1 1.05)"><tspan class="h1">1</tspan></text>
<text transform="translate(679.0 346.73) scale(1 1.05)"><tspan class="h1">1</tspan>0</text>
<text transform="translate(760.2 346.73) scale(1 1.05)">Glijstanghouder</text>
<text transform="translate(1017.9 346.73) scale(1 1.05)">48098000</text>
<text transform="translate(1127.3 346.73) scale(1 1.05)"><tspan class="h1">1</tspan></text>
<text transform="translate(679.0 374.62) scale(1 1.05)"><tspan class="h1">1</tspan><tspan class="h1">1</tspan></text>
<text transform="translate(760.2 374.62) scale(1 1.05)">Glijstuk</text>
<text transform="translate(1017.9 374.62) scale(1 1.05)">48099000</text>
<text transform="translate(1127.3 374.62) scale(1 1.05)"><tspan class="h1">1</tspan></text>
<text transform="translate(679.0 402.51) scale(1 1.05)"><tspan class="h1">1</tspan>2</text>
<text transform="translate(760.2 402.51) scale(1 1.05)">Verlengset, 30 mm</text>
<text transform="translate(1017.9 402.51) scale(1 1.05)">46238000</text>
<text transform="translate(1127.3 402.51) scale(1 1.05)"><tspan class="h1">1</tspan></text>
<text transform="translate(679.0 430.40) scale(1 1.05)"><tspan class="h1">1</tspan>3</text>
<text transform="translate(760.2 430.40) scale(1 1.05)">Pijpsleutel</text>
<text transform="translate(1017.9 430.40) scale(1 1.05)"><tspan class="h1">1</tspan>9332000</text>
<text transform="translate(1127.3 430.40) scale(1 1.05)"><tspan class="h1">1</tspan></text>
<text transform="translate(679.0 458.29) scale(1 1.05)"><tspan class="h1">1</tspan>4</text>
<text transform="translate(1017.9 458.29) scale(1 1.05)">47<tspan class="h1">1</tspan>75000</text>
<text transform="translate(1127.3 458.29) scale(1 1.05)"><tspan class="h1">1</tspan></text>
<text transform="translate(679.0 486.18) scale(1 1.05)"><tspan class="h1">1</tspan>5</text>
<text transform="translate(760.2 486.18) scale(1 1.05)">Speciale sleutel</text>
<text transform="translate(1017.9 486.18) scale(1 1.05)"><tspan class="h1">1</tspan>9377000</text>
<text transform="translate(1127.3 486.18) scale(1 1.05)"><tspan class="h1">1</tspan></text>
</g>
<g style="filter:blur(0.3px)"><path transform="matrix(1.0000 0.0000 0.0000 1.0000 0.000 0.000) translate(93.400 219.700) scale(0.00684 -0.00684)" d="M515 0V1237L197 1010V1180L530 1409H696V0Z" fill="rgb(17, 17, 17)" stroke="rgb(17, 17, 17)" stroke-width="73.1"/><path transform="matrix(1.0000 0.0000 0.0000 1.0000 0.000 0.000) translate(100.150 219.700) scale(0.00684 -0.00684)" d="M515 0V1237L197 1010V1180L530 1409H696V0Z" fill="rgb(17, 17, 17)" stroke="rgb(17, 17, 17)" stroke-width="73.1"/><path transform="matrix(1.0000 0.0000 0.0000 1.0000 0.000 0.000) translate(30.900 368.800) scale(0.00684 -0.00684)" d="M515 0V1237L197 1010V1180L530 1409H696V0Z" fill="rgb(17, 17, 17)" stroke="rgb(17, 17, 17)" stroke-width="73.1"/><path transform="matrix(1.0000 0.0000 0.0000 1.0000 0.000 0.000) translate(337.000 140.100) scale(0.00684 -0.00684)" d="M515 0V1237L197 1010V1180L530 1409H696V0Z" fill="rgb(17, 17, 17)" stroke="rgb(17, 17, 17)" stroke-width="73.1"/><path transform="matrix(1.0000 0.0000 0.0000 1.0000 0.000 0.000) translate(311.641 232.200) scale(0.00488 -0.00488)" d="M515 0V1237L197 1010V1180L530 1409H696V0Z" fill="rgb(42, 42, 42)" stroke="rgb(42, 42, 42)" stroke-width="51.2"/><path transform="matrix(1.0000 0.0000 0.0000 1.0000 0.000 0.000) translate(376.600 227.800) scale(0.00684 -0.00684)" d="M515 0V1237L197 1010V1180L530 1409H696V0Z" fill="rgb(17, 17, 17)" stroke="rgb(17, 17, 17)" stroke-width="73.1"/><path transform="matrix(1.0000 0.0000 0.0000 1.0000 0.000 0.000) translate(518.141 241.200) scale(0.00488 -0.00488)" d="M515 0V1237L197 1010V1180L530 1409H696V0Z" fill="rgb(42, 42, 42)" stroke="rgb(42, 42, 42)" stroke-width="51.2"/><path transform="matrix(1.0000 0.0000 0.0000 1.0000 0.000 0.000) translate(637.800 170.200) scale(0.00488 -0.00488)" d="M515 0V1237L197 1010V1180L530 1409H696V0Z" fill="rgb(42, 42, 42)" stroke="rgb(42, 42, 42)" stroke-width="51.2"/><path transform="matrix(1.0000 0.0000 0.0000 1.0000 0.000 0.000) translate(647.956 170.200) scale(0.00488 -0.00488)" d="M515 0V1237L197 1010V1180L530 1409H696V0Z" fill="rgb(42, 42, 42)" stroke="rgb(42, 42, 42)" stroke-width="51.2"/><path transform="matrix(1.0000 0.0000 0.0000 1.0000 0.000 0.000) translate(616.300 207.100) scale(0.00684 -0.00684)" d="M515 0V1237L197 1010V1180L530 1409H696V0Z" fill="rgb(17, 17, 17)" stroke="rgb(17, 17, 17)" stroke-width="73.1"/><path transform="matrix(1.0000 0.0000 0.0000 1.0000 0.000 0.000) translate(271.900 284.800) scale(0.00684 -0.00684)" d="M515 0V1237L197 1010V1180L530 1409H696V0Z" fill="rgb(17, 17, 17)" stroke="rgb(17, 17, 17)" stroke-width="73.1"/><path transform="matrix(1.0000 0.0000 0.0000 1.0000 0.000 0.000) translate(294.500 367.200) scale(0.00488 -0.00488)" d="M515 0V1237L197 1010V1180L530 1409H696V0Z" fill="rgb(42, 42, 42)" stroke="rgb(42, 42, 42)" stroke-width="51.2"/><path transform="matrix(1.0000 0.0000 0.0000 1.0000 0.000 0.000) translate(304.656 367.200) scale(0.00488 -0.00488)" d="M515 0V1237L197 1010V1180L530 1409H696V0Z" fill="rgb(42, 42, 42)" stroke="rgb(42, 42, 42)" stroke-width="51.2"/><path transform="matrix(1.0000 0.0000 0.0000 1.0000 0.000 0.000) translate(401.700 397.100) scale(0.00684 -0.00684)" d="M515 0V1237L197 1010V1180L530 1409H696V0Z" fill="rgb(17, 17, 17)" stroke="rgb(17, 17, 17)" stroke-width="73.1"/></g><path transform="matrix(1.0000 0.0000 0.0000 1.0500 679.000 70.900) translate(0.000 0.000) scale(0.01086 -0.01086)" d="M515 0V1237L197 1010V1180L530 1409H696V0Z" fill="rgb(58, 58, 58)"/><path transform="matrix(1.0000 0.0000 0.0000 1.0500 1017.900 70.900) translate(37.108 0.000) scale(0.01086 -0.01086)" d="M515 0V1237L197 1010V1180L530 1409H696V0Z" fill="rgb(58, 58, 58)"/><path transform="matrix(1.0000 0.0000 0.0000 1.0500 1127.300 70.900) translate(0.000 0.000) scale(0.01086 -0.01086)" d="M515 0V1237L197 1010V1180L530 1409H696V0Z" fill="rgb(58, 58, 58)"/><path transform="matrix(1.0000 0.0000 0.0000 1.0500 760.200 123.100) translate(0.000 0.000) scale(0.01086 -0.01086)" d="M515 0V1237L197 1010V1180L530 1409H696V0Z" fill="rgb(58, 58, 58)"/><path transform="matrix(1.0000 0.0000 0.0000 1.0500 1127.300 111.300) translate(0.000 0.000) scale(0.01086 -0.01086)" d="M515 0V1237L197 1010V1180L530 1409H696V0Z" fill="rgb(58, 58, 58)"/><path transform="matrix(1.0000 0.0000 0.0000 1.0500 1017.900 151.500) translate(37.108 0.000) scale(0.01086 -0.01086)" d="M515 0V1237L197 1010V1180L530 1409H696V0Z" fill="rgb(58, 58, 58)"/><path transform="matrix(1.0000 0.0000 0.0000 1.0500 1127.300 151.500) translate(0.000 0.000) scale(0.01086 -0.01086)" d="M515 0V1237L197 1010V1180L530 1409H696V0Z" fill="rgb(58, 58, 58)"/><path transform="matrix(1.0000 0.0000 0.0000 1.0500 1127.300 179.390) translate(0.000 0.000) scale(0.01086 -0.01086)" d="M515 0V1237L197 1010V1180L530 1409H696V0Z" fill="rgb(58, 58, 58)"/><path transform="matrix(1.0000 0.0000 0.0000 1.0500 760.200 207.280) translate(168.060 0.000) scale(0.01086 -0.01086)" d="M515 0V1237L197 1010V1180L530 1409H696V0Z" fill="rgb(58, 58, 58)"/><path transform="matrix(1.0000 0.0000 0.0000 1.0500 1127.300 207.280) translate(0.000 0.000) scale(0.01086 -0.01086)" d="M515 0V1237L197 1010V1180L530 1409H696V0Z" fill="rgb(58, 58, 58)"/><path transform="matrix(1.0000 0.0000 0.0000 1.0500 1017.900 235.170) translate(24.733 0.000) scale(0.01086 -0.01086)" d="M515 0V1237L197 1010V1180L530 1409H696V0Z" fill="rgb(58, 58, 58)"/><path transform="matrix(1.0000 0.0000 0.0000 1.0500 1127.300 235.170) translate(0.000 0.000) scale(0.01086 -0.01086)" d="M515 0V1237L197 1010V1180L530 1409H696V0Z" fill="rgb(58, 58, 58)"/><path transform="matrix(1.0000 0.0000 0.0000 1.0500 1017.900 263.060) translate(0.000 0.000) scale(0.01086 -0.01086)" d="M515 0V1237L197 1010V1180L530 1409H696V0Z" fill="rgb(58, 58, 58)"/><path transform="matrix(1.0000 0.0000 0.0000 1.0500 1127.300 263.060) translate(0.000 0.000) scale(0.01086 -0.01086)" d="M515 0V1237L197 1010V1180L530 1409H696V0Z" fill="rgb(58, 58, 58)"/><path transform="matrix(1.0000 0.0000 0.0000 1.0500 1127.300 290.950) translate(0.000 0.000) scale(0.01086 -0.01086)" d="M515 0V1237L197 1010V1180L530 1409H696V0Z" fill="rgb(58, 58, 58)"/><path transform="matrix(1.0000 0.0000 0.0000 1.0500 1017.900 318.840) translate(24.733 0.000) scale(0.01086 -0.01086)" d="M515 0V1237L197 1010V1180L530 1409H696V0Z" fill="rgb(58, 58, 58)"/><path transform="matrix(1.0000 0.0000 0.0000 1.0500 1127.300 318.840) translate(0.000 0.000) scale(0.01086 -0.01086)" d="M515 0V1237L197 1010V1180L530 1409H696V0Z" fill="rgb(58, 58, 58)"/><path transform="matrix(1.0000 0.0000 0.0000 1.0500 679.000 346.730) translate(0.000 0.000) scale(0.01086 -0.01086)" d="M515 0V1237L197 1010V1180L530 1409H696V0Z" fill="rgb(58, 58, 58)"/><path transform="matrix(1.0000 0.0000 0.0000 1.0500 1127.300 346.730) translate(0.000 0.000) scale(0.01086 -0.01086)" d="M515 0V1237L197 1010V1180L530 1409H696V0Z" fill="rgb(58, 58, 58)"/><path transform="matrix(1.0000 0.0000 0.0000 1.0500 679.000 374.620) translate(0.000 0.000) scale(0.01086 -0.01086)" d="M515 0V1237L197 1010V1180L530 1409H696V0Z" fill="rgb(58, 58, 58)"/><path transform="matrix(1.0000 0.0000 0.0000 1.0500 679.000 374.620) translate(12.374 0.000) scale(0.01086 -0.01086)" d="M515 0V1237L197 1010V1180L530 1409H696V0Z" fill="rgb(58, 58, 58)"/><path transform="matrix(1.0000 0.0000 0.0000 1.0500 1127.300 374.620) translate(0.000 0.000) scale(0.01086 -0.01086)" d="M515 0V1237L197 1010V1180L530 1409H696V0Z" fill="rgb(58, 58, 58)"/><path transform="matrix(1.0000 0.0000 0.0000 1.0500 679.000 402.510) translate(0.000 0.000) scale(0.01086 -0.01086)" d="M515 0V1237L197 1010V1180L530 1409H696V0Z" fill="rgb(58, 58, 58)"/><path transform="matrix(1.0000 0.0000 0.0000 1.0500 1127.300 402.510) translate(0.000 0.000) scale(0.01086 -0.01086)" d="M515 0V1237L197 1010V1180L530 1409H696V0Z" fill="rgb(58, 58, 58)"/><path transform="matrix(1.0000 0.0000 0.0000 1.0500 679.000 430.400) translate(0.000 0.000) scale(0.01086 -0.01086)" d="M515 0V1237L197 1010V1180L530 1409H696V0Z" fill="rgb(58, 58, 58)"/><path transform="matrix(1.0000 0.0000 0.0000 1.0500 1017.900 430.400) translate(0.000 0.000) scale(0.01086 -0.01086)" d="M515 0V1237L197 1010V1180L530 1409H696V0Z" fill="rgb(58, 58, 58)"/><path transform="matrix(1.0000 0.0000 0.0000 1.0500 1127.300 430.400) translate(0.000 0.000) scale(0.01086 -0.01086)" d="M515 0V1237L197 1010V1180L530 1409H696V0Z" fill="rgb(58, 58, 58)"/><path transform="matrix(1.0000 0.0000 0.0000 1.0500 679.000 458.290) translate(0.000 0.000) scale(0.01086 -0.01086)" d="M515 0V1237L197 1010V1180L530 1409H696V0Z" fill="rgb(58, 58, 58)"/><path transform="matrix(1.0000 0.0000 0.0000 1.0500 1017.900 458.290) translate(24.733 0.000) scale(0.01086 -0.01086)" d="M515 0V1237L197 1010V1180L530 1409H696V0Z" fill="rgb(58, 58, 58)"/><path transform="matrix(1.0000 0.0000 0.0000 1.0500 1127.300 458.290) translate(0.000 0.000) scale(0.01086 -0.01086)" d="M515 0V1237L197 1010V1180L530 1409H696V0Z" fill="rgb(58, 58, 58)"/><path transform="matrix(1.0000 0.0000 0.0000 1.0500 679.000 486.180) translate(0.000 0.000) scale(0.01086 -0.01086)" d="M515 0V1237L197 1010V1180L530 1409H696V0Z" fill="rgb(58, 58, 58)"/><path transform="matrix(1.0000 0.0000 0.0000 1.0500 1017.900 486.180) translate(0.000 0.000) scale(0.01086 -0.01086)" d="M515 0V1237L197 1010V1180L530 1409H696V0Z" fill="rgb(58, 58, 58)"/><path transform="matrix(1.0000 0.0000 0.0000 1.0500 1127.300 486.180) translate(0.000 0.000) scale(0.01086 -0.01086)" d="M515 0V1237L197 1010V1180L530 1409H696V0Z" fill="rgb(58, 58, 58)"/>
</svg>
</body></html>
